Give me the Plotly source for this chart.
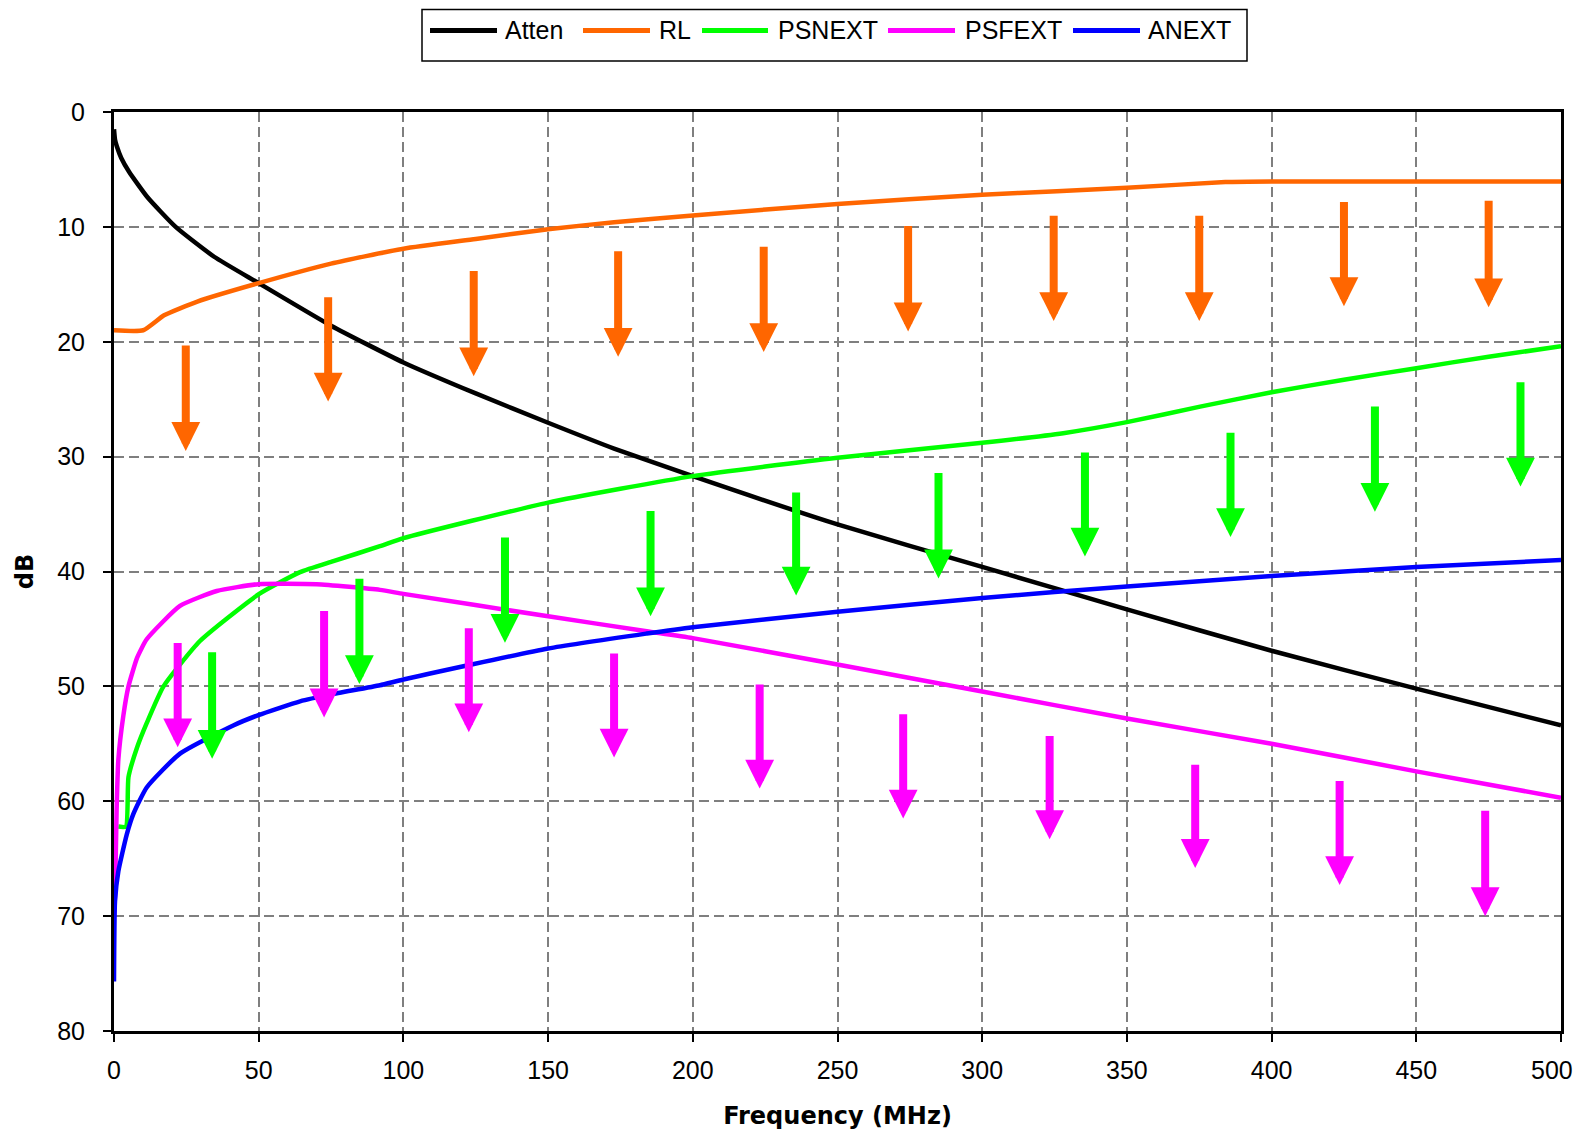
import plotly.graph_objects as go

# ---------------- data ----------------
atten_x = [0, 0.35, 1, 2.5, 5.2, 11.5, 21.3, 34.6, 50, 75, 100, 125, 150, 172.8, 200, 250, 300, 350, 400, 450, 500]
atten_y = [1.5, 2.4, 3.0, 4.0, 5.2, 7.4, 10.0, 12.6, 14.9, 18.6, 21.8, 24.5, 27.05, 29.3, 31.7, 35.9, 39.6, 43.3, 46.9, 50.2, 53.4]

rl_x = [0, 10.1, 17.3, 28.8, 50, 75, 100, 125, 150, 172.8, 200, 250, 300, 325.8, 350, 384, 400, 450, 500]
rl_y = [19.0, 19.0, 17.7, 16.5, 14.9, 13.2, 11.9, 11.05, 10.2, 9.6, 9.0, 8.0, 7.2, 6.9, 6.6, 6.1, 6.05, 6.05, 6.05]

psnext_x = [1.5, 4.1, 5.0, 8, 11.3, 17.1, 29.7, 49.9, 64.3, 75.8, 91.9, 100, 150, 200, 250, 300, 328, 350, 375.3, 400, 425, 450, 475, 500]
psnext_y = [62.2, 62.2, 57.9, 55.3, 53.2, 50.0, 46.05, 42.0, 40.06, 39.1, 37.8, 37.1, 34.0, 31.7, 30.1, 28.8, 27.96, 27.0, 25.65, 24.4, 23.3, 22.3, 21.3, 20.4]

psfext_x = [0, 0.35, 0.9, 1.5, 3.2, 5.0, 8, 11.3, 22.8, 35.5, 49.9, 70, 91.9, 100, 150, 184.1, 200, 250, 300, 350, 400, 450, 500]
psfext_y = [70.0, 68.1, 60.8, 56.4, 52.6, 50.0, 47.5, 45.9, 43.0, 41.7, 41.1, 41.1, 41.6, 41.95, 43.9, 45.2, 45.8, 48.1, 50.45, 52.8, 55.0, 57.4, 59.7]

anext_x = [0, 0.35, 1.5, 4.4, 6.7, 11.3, 22.8, 41.2, 49.9, 64.3, 75, 91.9, 100, 150, 184.1, 200, 250, 300, 350, 400, 450, 500]
anext_y = [75.7, 68.7, 66.1, 62.9, 61.1, 58.8, 55.85, 53.4, 52.5, 51.3, 50.7, 49.9, 49.4, 46.7, 45.4, 44.85, 43.5, 42.3, 41.3, 40.4, 39.6, 39.0]

# arrows: x position (MHz), tail (dB), tip (dB)
rl_arrow_x = [24.8, 74, 124.3, 174.2, 224.5, 274.4, 324.7, 375, 425, 475]
rl_arrow_top = [20.2, 16.0, 13.7, 12.0, 11.6, 9.8, 8.9, 8.9, 7.7, 7.6]
rl_arrow_tip = [29.5, 25.2, 23.0, 21.3, 20.9, 19.1, 18.2, 18.2, 16.9, 17.0]

psnext_arrow_x = [33.9, 84.8, 135.1, 185.4, 235.7, 284.9, 335.5, 385.8, 435.7, 486.0]
psnext_arrow_top = [46.9, 40.5, 36.9, 34.6, 33.0, 31.3, 29.5, 27.8, 25.5, 23.4]
psnext_arrow_tip = [56.3, 49.8, 46.2, 43.9, 42.1, 40.6, 38.7, 37.0, 34.8, 32.6]

psfext_arrow_x = [22.0, 72.6, 122.6, 172.8, 223.1, 272.7, 323.3, 373.6, 423.5, 473.8]
psfext_arrow_top = [46.1, 43.3, 44.8, 47.0, 49.7, 52.3, 54.2, 56.7, 58.1, 60.7]
psfext_arrow_tip = [55.3, 52.7, 54.0, 56.2, 58.9, 61.5, 63.3, 65.8, 67.3, 70.0]

x_ticks = [0, 50, 100, 150, 200, 250, 300, 350, 400, 450, 500]
y_ticks = [0, 10, 20, 30, 40, 50, 60, 70, 80]

series_names = ["Atten", "RL", "PSNEXT", "PSFEXT", "ANEXT"]
series_colors = ["#000000", "#FF6600", "#00FF00", "#FF00FF", "#0000FF"]

# ---------------- layout geometry (pixels) ----------------
# the page body has an 8px margin; the figure is sized so that the page
# never scrolls, and page-pixel positions are shifted by that offset
PAGE_OFF = 8
W, H = 1584 - PAGE_OFF, 1138 - 2 * PAGE_OFF
PLOT_L, PLOT_T, PLOT_R, PLOT_B = 114, 112, 1561, 1031.5   # page pixels
ML = PLOT_L - PAGE_OFF
MT = PLOT_T - PAGE_OFF
MR = W - (PLOT_R - PAGE_OFF)
MB = H - (PLOT_B - PAGE_OFF)
PW, PH = W - ML - MR, H - MT - MB

def px_x(p):
    return (p - PAGE_OFF - ML) / PW

def px_y(p):
    return 1 - (p - PAGE_OFF - MT) / PH

FONT = "Liberation Sans, Arial, sans-serif"
BOLD = "DejaVu Sans, Liberation Sans, Arial, sans-serif"

fig = go.Figure()

all_x = [atten_x, rl_x, psnext_x, psfext_x, anext_x]
all_y = [atten_y, rl_y, psnext_y, psfext_y, anext_y]
for name, xs, ys, col in zip(series_names, all_x, all_y, series_colors):
    fig.add_trace(go.Scatter(x=xs, y=ys, name=name, mode="lines", showlegend=False,
                             line=dict(color=col, width=4.5, shape="spline", smoothing=0.5)))

def add_arrows(xs, tops, tips, col):
    for x, t, p in zip(xs, tops, tips):
        fig.add_annotation(x=x, y=p, ax=x, ay=t, xref="x", yref="y", axref="x", ayref="y",
                           showarrow=True, arrowhead=2, arrowwidth=8, arrowsize=0.72,
                           arrowcolor=col, text="")

add_arrows(rl_arrow_x, rl_arrow_top, rl_arrow_tip, "#FF6600")
add_arrows(psnext_arrow_x, psnext_arrow_top, psnext_arrow_tip, "#00FF00")
add_arrows(psfext_arrow_x, psfext_arrow_top, psfext_arrow_tip, "#FF00FF")

# ---------------- custom legend box (wide line samples as in the reference) ----------------
legend_box = (422, 9.5, 1247, 61)
legend_line_px = [(430, 497), (583, 650), (702, 768), (888, 955), (1073, 1140)]
legend_text_px = [503, 657, 776, 963, 1146]
legend_y = 30.5

fig.add_shape(type="rect", xref="paper", yref="paper",
              x0=px_x(legend_box[0]), x1=px_x(legend_box[2]),
              y0=px_y(legend_box[1]), y1=px_y(legend_box[3]),
              line=dict(color="black", width=1.5), fillcolor="white", layer="above")
for (a, b), tx, name, col in zip(legend_line_px, legend_text_px, series_names, series_colors):
    fig.add_shape(type="line", xref="paper", yref="paper",
                  x0=px_x(a), x1=px_x(b), y0=px_y(legend_y), y1=px_y(legend_y),
                  line=dict(color=col, width=5), layer="above")
    fig.add_annotation(x=px_x(tx), y=px_y(legend_y - 1), xref="paper", yref="paper",
                       text=name, showarrow=False, xanchor="left", yanchor="middle",
                       font=dict(family=FONT, size=25, color="black"))

# last x tick label drawn right-aligned so it stays inside the visible page
x_ticktext = [str(v) for v in x_ticks[:-1]] + [""]
fig.add_annotation(x=px_x(1575), y=px_y(1071), xref="paper", yref="paper",
                   text=str(x_ticks[-1]), showarrow=False, xanchor="right", yanchor="middle",
                   font=dict(family=FONT, size=25, color="black"))

fig.update_layout(
    width=W, height=H,
    margin=dict(l=ML, r=MR, t=MT, b=MB, autoexpand=False),
    paper_bgcolor="white", plot_bgcolor="white",
    font=dict(family=FONT, size=25, color="black"),
    showlegend=False,
)
fig.update_xaxes(range=[0, 500], tickvals=x_ticks, ticktext=x_ticktext,
                 showline=True, linecolor="black", linewidth=3,
                 mirror=True, ticks="outside", ticklen=8, tickcolor="black", tickwidth=1.5,
                 ticklabelstandoff=7, automargin=False,
                 tickfont=dict(family=FONT, size=25),
                 showgrid=True, gridcolor="#7f7f7f", gridwidth=1.5, griddash="10px,5px",
                 zeroline=False,
                 title=dict(text="<b>Frequency (MHz)</b>", font=dict(size=24, family=BOLD), standoff=41))
fig.update_yaxes(range=[80, 0], tickvals=y_ticks, showline=True, linecolor="black", linewidth=3,
                 mirror=True, ticks="outside", ticklen=8, tickcolor="black", tickwidth=1.5,
                 ticklabelstandoff=13, automargin=False,
                 tickfont=dict(family=FONT, size=25),
                 showgrid=True, gridcolor="#7f7f7f", gridwidth=1.5, griddash="10px,5px",
                 zeroline=False,
                 title=dict(text="<b>dB</b>", font=dict(size=24, family=BOLD), standoff=17))

fig.write_html("out.html")
